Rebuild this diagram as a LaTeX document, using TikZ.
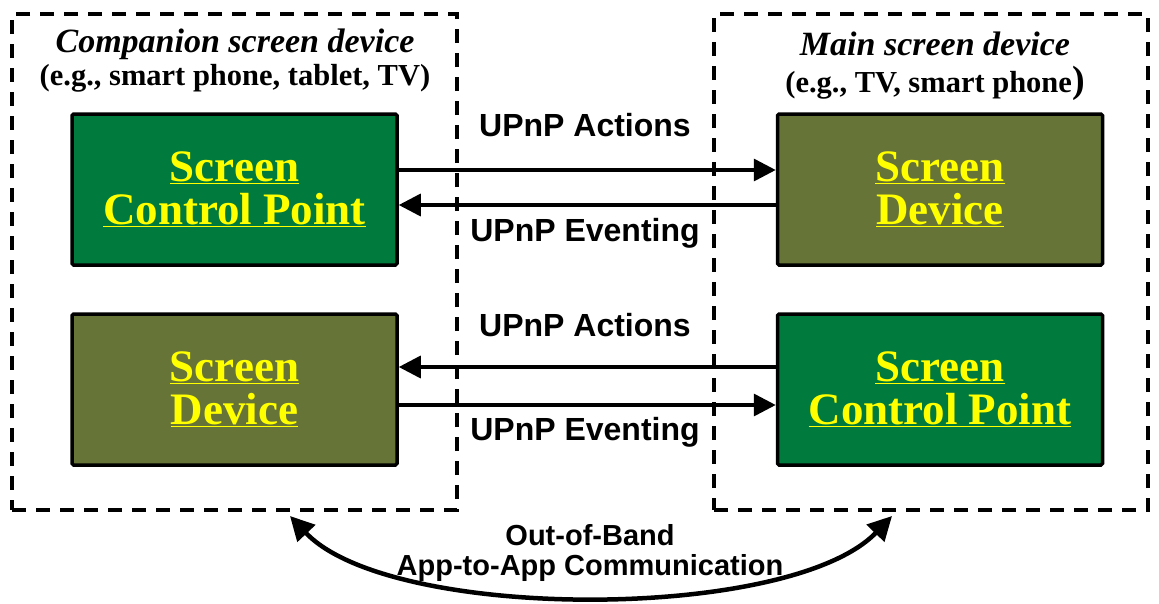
\documentclass[tikz,border=0pt]{standalone}
\usepackage{fontspec}
\setmainfont{Liberation Serif}
\setsansfont{Liberation Sans}
\usetikzlibrary{arrows.meta}
\definecolor{cpgreen}{RGB}{0,122,61}
\definecolor{sdolive}{RGB}{102,116,56}
\definecolor{txtyellow}{RGB}{255,255,0}
\tikzset{
  grp/.style={draw=black, line width=3.5pt, dash pattern=on 14pt off 10pt, minimum width=#1, minimum height=496pt, inner sep=0pt},
  blk/.style={draw=black, line width=3.5pt, fill=#1, minimum width=325pt, minimum height=151pt, rounded corners=1.5pt,
    text=txtyellow, font=\fontsize{45}{47}\selectfont\bfseries, align=center, inner sep=0pt},
  arr/.style={line width=3.5pt, -{Triangle[length=22pt,width=22pt]}},
  lbl/.style={font=\fontsize{32}{35}\selectfont\sffamily\bfseries, inner sep=0pt},
  ttl/.style={font=\fontsize{34}{36}\selectfont\bfseries\itshape, inner sep=0pt},
  sub/.style={font=\fontsize{30.5}{33}\selectfont\bfseries, inner sep=0pt},
}
\begin{document}
\begin{tikzpicture}[x=1pt,y=-1pt]
\useasboundingbox (0,0) rectangle (1159,603);
% group boxes
\node[grp=445pt] (lgrp) at (234.5,262) {};
\node[grp=434pt] (rgrp) at (931,262) {};
\node[ttl] (lttl) at (235,44) {Companion screen device};
\node[sub] (lsub) at (235,78) {(e.g., smart phone, tablet, TV)};
\node[ttl] (rttl) at (935,44) {Main screen device};
\node[sub] (rsub) at (935,83) {(e.g., TV, smart phone\textnormal{\bfseries\fontsize{38}{38}\selectfont)}};
% blocks
\node[blk=cpgreen] (lcp) at (234.5,189.5) {\underline{Screen}\\[-4pt]\underline{Control Point}};
\node[blk=sdolive] (rsd) at (940,189.5) {\underline{Screen}\\[-4pt]\underline{Device}};
\node[blk=sdolive] (lsd) at (234.5,389.5) {\underline{Screen}\\[-4pt]\underline{Device}};
\node[blk=cpgreen] (rcp) at (940,389.5) {\underline{Screen}\\[-4pt]\underline{Control Point}};
% arrows
\draw[arr] ([yshift=19.5pt]lcp.east) -- ([yshift=19.5pt]rsd.west);
\draw[arr] ([yshift=-15.5pt]rsd.west) -- ([yshift=-15.5pt]lcp.east);
\draw[arr] ([yshift=22.5pt]rcp.west) -- ([yshift=22.5pt]lsd.east);
\draw[arr] ([yshift=-15.5pt]lsd.east) -- ([yshift=-15.5pt]rcp.west);
\node[lbl] (a1) at (585,125) {UPnP Actions};
\node[lbl] (e1) at (585,233) {UPnP Eventing};
\node[lbl] (a2) at (585,325) {UPnP Actions};
\node[lbl] (e2) at (585,432) {UPnP Eventing};
% out-of-band
\coordinate (oa) at (290,516);
\coordinate (ob) at (892,516);
\draw[line width=4.5pt, {Triangle[length=24pt,width=24pt]}-{Triangle[length=24pt,width=24pt]}] (oa) .. controls (390,622) and (790,622) .. (ob);
\node[lbl, font=\fontsize{29}{30}\selectfont\sffamily\bfseries, align=center] (oob) at (590,553) {Out-of-Band\\App-to-App Communication};
\end{tikzpicture}
\end{document}
